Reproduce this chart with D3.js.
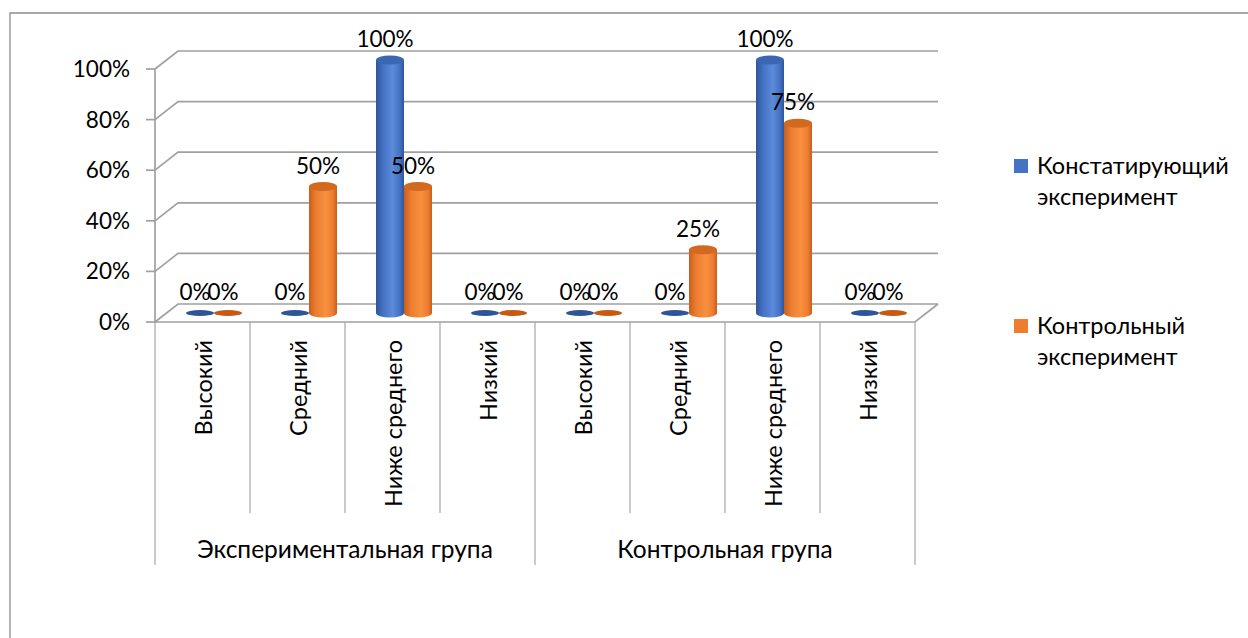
<!DOCTYPE html>
<html><head><meta charset="utf-8">
<script src="https://cdn.jsdelivr.net/npm/d3@7"></script>
<style>
html,body{margin:0;padding:0;background:#fff;}
svg{display:block;}
text{font-family:Lato,"Noto Sans",sans-serif;fill:#000;}
</style></head>
<body>
<svg id="chart" width="1248" height="638"></svg>
<script>
const categories = ["Высокий","Средний","Ниже среднего","Низкий","Высокий","Средний","Ниже среднего","Низкий"];
const groups = ["Экспериментальная група","Контрольная група"];
const seriesNames = ["Констатирующий эксперимент","Контрольный эксперимент"];
const constatValues = [0,0,1,0,0,0,1,0];
const controlValues = [0,0.5,0.5,0,0,0.25,0.75,0];
const yTicks = [0,0.2,0.4,0.6,0.8,1];
const labelTexts = ["0%","20%","40%","60%","80%","100%"];

const series = [
  {name: seriesNames[0], values: constatValues, base:"#4472C4", light:"#5B8BDA", dark:"#2F5597", top:"#3A66B2", zero:"#2E5597"},
  {name: seriesNames[1], values: controlValues, base:"#ED7D31", light:"#F8903F", dark:"#C65F1C", top:"#D2691F", zero:"#C55A11"}
];

const svg = d3.select("#chart");
const FS_NUM = 22.5, FS_CAT = 23.5, FS_GRP = 24.5, FS_LEG = 23.5;
const DX = 23, DY = -18;
const x = d3.scaleBand().domain(d3.range(categories.length)).range([155, 915]);
const y = d3.scaleLinear().domain([0,1]).range([322, 69]);
const sub = d3.scaleBand().domain([0,1]).range([19.5, 75.5]);
const fmt = d3.format(".0%");

// outer border
svg.append("path").attr("d","M10,638 L10,13 L1248,13").attr("fill","none").attr("stroke","#8c8c8c").attr("stroke-width",1.3);

// defs gradients
const defs = svg.append("defs");
series.forEach((s,i)=>{
  const g = defs.append("linearGradient").attr("id","g"+i).attr("x1","0").attr("x2","1").attr("y1","0").attr("y2","0");
  g.append("stop").attr("offset","0").attr("stop-color",s.dark);
  g.append("stop").attr("offset","0.25").attr("stop-color",s.base);
  g.append("stop").attr("offset","0.6").attr("stop-color",s.light);
  g.append("stop").attr("offset","0.85").attr("stop-color",s.base);
  g.append("stop").attr("offset","1").attr("stop-color",s.dark);
});

const grid = svg.append("g").attr("fill","none").attr("stroke","#a0a0a0").attr("stroke-width",1.7);
const x0 = x.range()[0], x1 = x.range()[1];
yTicks.forEach(t=>{
  const yy = y(t);
  grid.append("path").attr("d",`M${x0},${yy} L${x0+DX},${yy+DY} L${x1+DX},${yy+DY}`);
  grid.append("line").attr("x1",x0-9).attr("x2",x0).attr("y1",yy).attr("y2",yy);
});
// front axis, floor
grid.append("line").attr("x1",x0).attr("x2",x0).attr("y1",y(1)).attr("y2",y(0)+1);
grid.append("path").attr("d",`M${x0},${y(0)} L${x1},${y(0)} L${x1+DX},${y(0)+DY}`);

// tick labels
svg.append("g").selectAll("text").data(yTicks).join("text")
  .attr("x",130).attr("y",d=>y(d)+8).attr("text-anchor","end").attr("font-size",FS_NUM)
  .text((d,i)=>labelTexts[i]);

// category dividers
const div = svg.append("g").attr("stroke","#a6a6a6").attr("stroke-width",1.2);
d3.range(categories.length+1).forEach(i=>{
  const xx = i < categories.length ? x(i) : x1;
  const bottom = (i % 4 === 0) ? 565 : 513;
  div.append("line").attr("x1",xx).attr("x2",xx).attr("y1",y(0)).attr("y2",bottom);
});

// category labels
svg.append("g").selectAll("text").data(categories).join("text")
  .attr("transform",(d,i)=>`translate(${x(i)+x.bandwidth()/2+9},340) rotate(-90)`)
  .attr("text-anchor","end").attr("font-size",FS_CAT).text(d=>d);

// group labels
svg.append("g").selectAll("text").data(groups).join("text")
  .attr("x",(d,i)=>(x(i*4)+ (i===1? x1 : x(4)))/2).attr("y",558)
  .attr("text-anchor","middle").attr("font-size",FS_GRP).text(d=>d);

// bars
const bars = svg.append("g");
categories.forEach((c,ci)=>{
  series.forEach((s,si)=>{
    const v = s.values[ci];
    const cx = x(ci) + sub(si) + sub.bandwidth()/2 + DX/2;
    const rx = sub.bandwidth()/2;
    const yb = y(0) + DY/2;
    const yt = y(v) + DY/2;
    if (v === 0) {
      bars.append("ellipse").attr("cx",cx).attr("cy",yb).attr("rx",rx).attr("ry",3).attr("fill",s.zero);
    } else {
      const ry = 4.5;
      bars.append("path")
        .attr("d",`M${cx-rx},${yt} L${cx-rx},${yb} A${rx},${ry} 0 0 0 ${cx+rx},${yb} L${cx+rx},${yt} Z`)
        .attr("fill",`url(#g${si})`);
      bars.append("ellipse").attr("cx",cx).attr("cy",yt).attr("rx",rx).attr("ry",ry).attr("fill",s.top);
    }
  });
});

// data labels
const dl = svg.append("g");
categories.forEach((c,ci)=>{
  series.forEach((s,si)=>{
    const v = s.values[ci];
    const cx = x(ci) + sub(si) + sub.bandwidth()/2 + DX/2;
    dl.append("text").attr("x",cx-5).attr("y",y(v)+DY/2-21+8)
      .attr("text-anchor","middle").attr("font-size",FS_NUM).text(fmt(v));
  });
});

// legend
const lg = svg.append("g");
const legY = [159, 319];
series.forEach((s,i)=>{
  lg.append("rect").attr("x",1014).attr("y",legY[i]).attr("width",14).attr("height",14).attr("fill",s.base);
  const words = s.name.split(" ");
  lg.append("text").attr("x",1037).attr("y",legY[i]+15).attr("font-size",FS_LEG).text(words[0]);
  lg.append("text").attr("x",1037).attr("y",legY[i]+46).attr("font-size",FS_LEG).text(words[1]);
});
</script>
</body></html>
